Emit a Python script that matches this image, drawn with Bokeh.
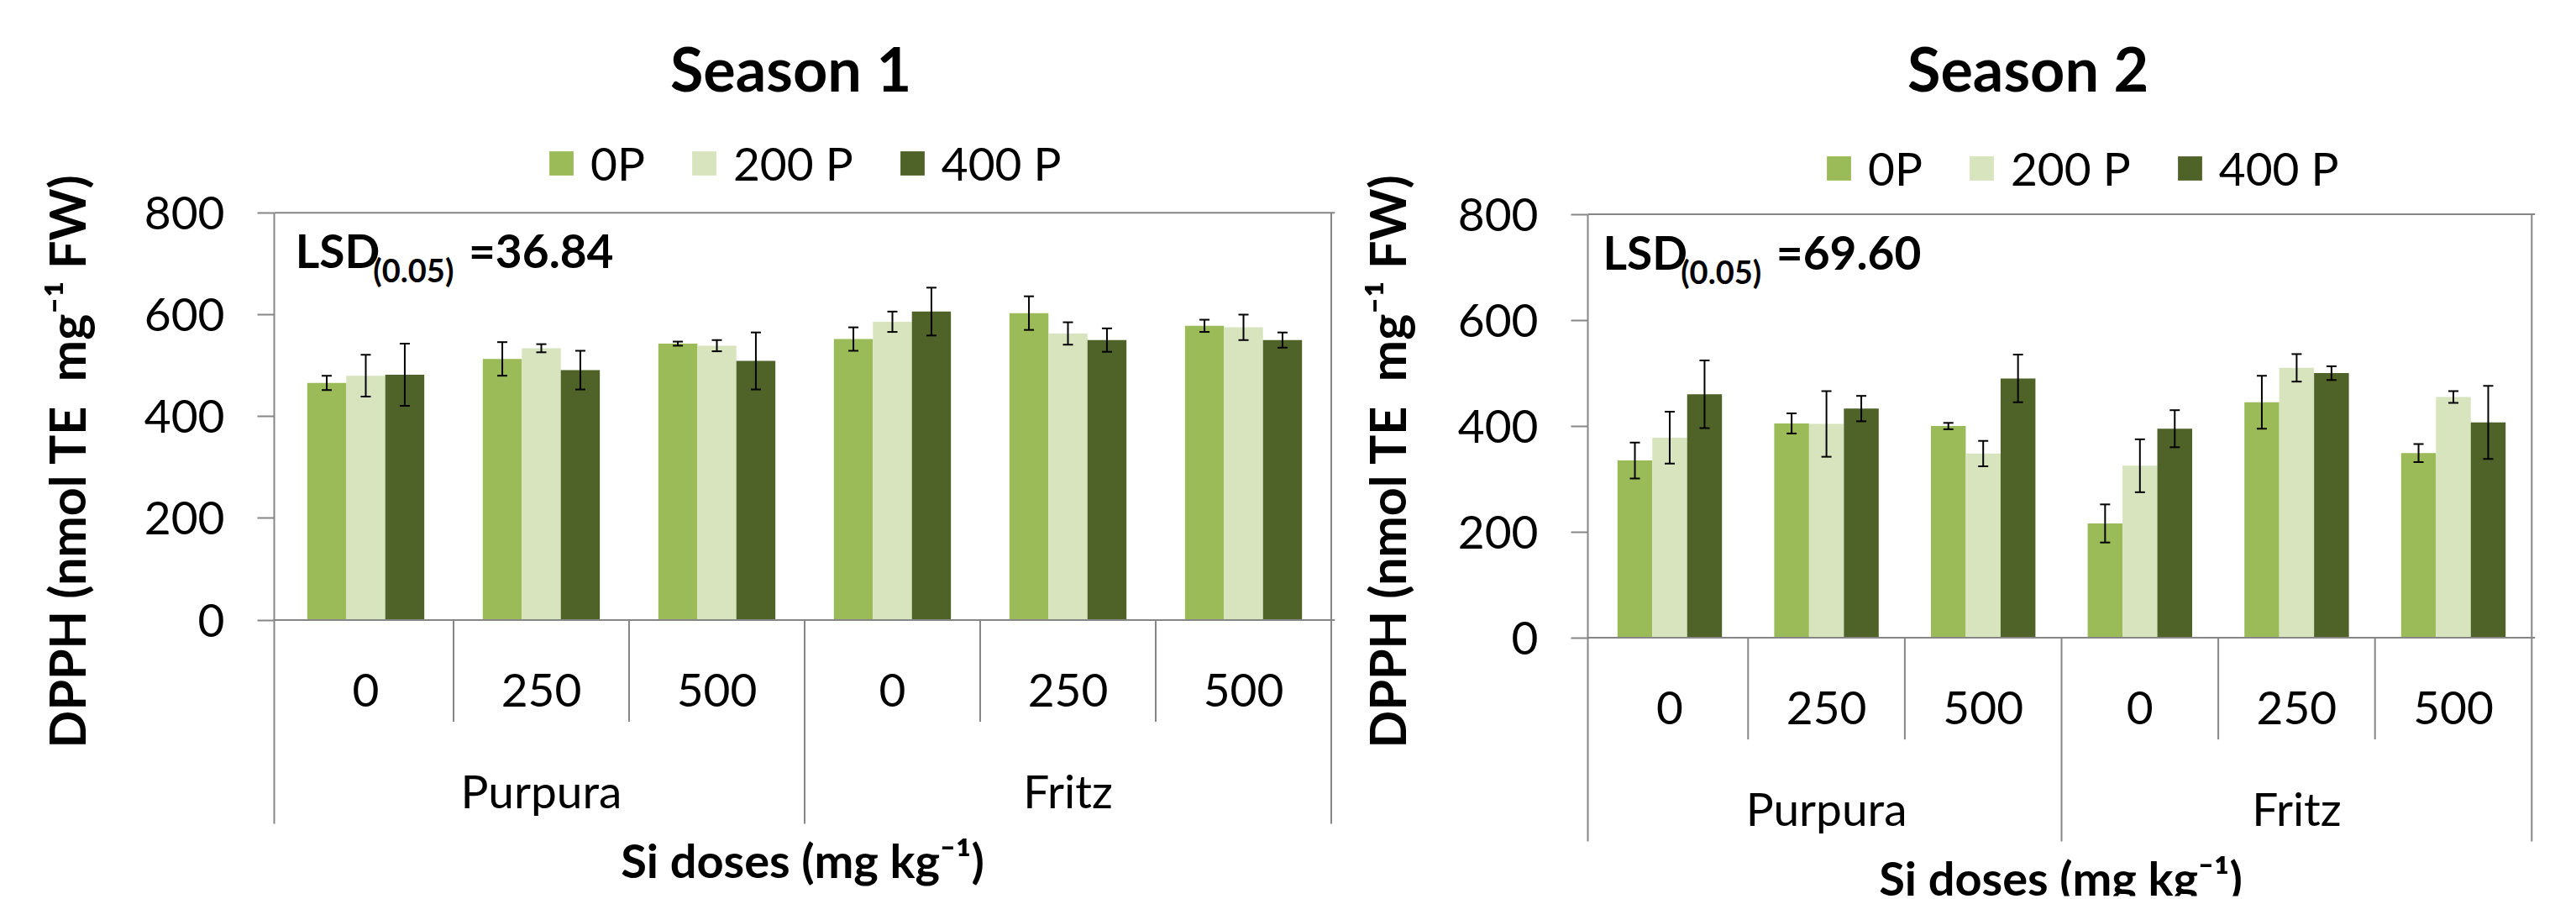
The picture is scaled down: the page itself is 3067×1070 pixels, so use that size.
import math
from bokeh.plotting import figure
from bokeh.models import (FactorRange, Range1d, FixedTicker, ColumnDataSource, Label,
                          Legend, LegendItem, Span)
from bokeh.transform import dodge
from bokeh.layouts import row
from bokeh.core.properties import value
from bokeh.embed import file_html
from bokeh.resources import INLINE

# ---------------- data ----------------
cultivars = ["Purpura", "Fritz"]
doses = ["0", "250", "500"]
series_names = ["0P", "200 P", "400 P"]
series_colors = ["#9BBB59", "#D7E4BD", "#4F6228"]
y_ticks = [0, 200, 400, 600, 800]

# Season 1 (means, error bar half-widths), order: Purpura 0/250/500, Fritz 0/250/500
s1_0p = [466, 513, 543, 552, 603, 578]
s1_0p_err = [14, 33, 4, 23, 33, 12]
s1_200p = [480, 534, 539, 586, 563, 575]
s1_200p_err = [41, 8, 11, 20, 22, 25]
s1_400p = [482, 491, 509, 606, 550, 550]
s1_400p_err = [61, 38, 56, 47, 23, 15]

# Season 2
s2_0p = [335, 405, 400, 216, 445, 349]
s2_0p_err = [34, 19, 6, 36, 50, 17]
s2_200p = [378, 404, 348, 325, 510, 455]
s2_200p_err = [49, 62, 24, 50, 26, 11]
s2_400p = [460, 433, 490, 395, 500, 407]
s2_400p_err = [64, 24, 45, 35, 13, 69]

titles = ["Season 1", "Season 2"]
lsd_values = ["=36.84", "=69.60"]
y_title = "DPPH (nmol TE\u2002mg\u207b\u00b9 FW)"
x_title = "Si doses (mg kg\u207b\u00b9)"

FONT = "Lato"
GRAY = "#868686"
FRAME_TOP = 30
FRAME_BOTTOM = 1066
FIG_H = 1068


def make_chart(title, lsd, vals, errs, g):
    fl, fw = g["frame_left"], g["frame_w"]
    ft, fb = FRAME_TOP, FRAME_BOTTOM
    fh = fb - ft
    cat_px = g["cat_px"]
    pad = fw / cat_px - 6
    ppu = (g["y0"] - g["y800"]) / 800.0
    y_end = 800 + (g["y800"] - ft) / ppu
    y_start = y_end - fh / ppu

    def dx(px):
        return -pad / 2 + (px - fl) / cat_px

    def dy(py):
        return y_end - (py - ft) / ppu

    y_sep = dy(g["sep_bottom"])

    factors = [(c, d) for c in cultivars for d in doses]
    p = figure(width=g["fig_w"], height=FIG_H, title=None,
               x_range=FactorRange(factors=factors, factor_padding=0, group_padding=0,
                                   subgroup_padding=0, range_padding=pad,
                                   range_padding_units="absolute"),
               y_range=Range1d(y_start, y_end),
               output_backend="svg", toolbar_location=None,
               min_border_left=fl - g["page_left"],
               min_border_right=g["fig_w"] - (fl - g["page_left"]) - fw,
               min_border_top=ft,
               min_border_bottom=FIG_H - fb)
    p.outline_line_color = None
    p.grid.visible = False
    p.xaxis.visible = False
    p.background_fill_color = "white"
    p.border_fill_color = "white"

    yax = p.yaxis[0]
    yax.ticker = FixedTicker(ticks=y_ticks, minor_ticks=[])
    yax.bounds = (y_sep, 800)
    yax.major_tick_out = 20
    yax.major_tick_in = 0
    yax.minor_tick_line_color = None
    yax.axis_line_color = GRAY
    yax.axis_line_width = 2
    yax.major_tick_line_color = GRAY
    yax.major_tick_line_width = 2
    yax.major_label_text_font = FONT
    yax.major_label_text_font_size = "55px"
    yax.major_label_text_color = "black"
    yax.major_label_standoff = 39
    yax.axis_label = y_title
    yax.axis_label_text_font = FONT
    yax.axis_label_text_font_style = "bold"
    yax.axis_label_text_font_size = "59px"
    yax.axis_label_text_color = "black"
    yax.axis_label_standoff = g["ytitle_standoff"]

    # frame lines
    p.add_layout(Span(location=800, dimension="width", line_color=GRAY, line_width=2))
    p.add_layout(Span(location=0, dimension="width", line_color=GRAY, line_width=2))

    data = {"x": factors}
    w = 1 / 4.5
    offsets = [-w, 0, w]
    for i in range(3):
        data[f"v{i}"] = vals[i]
        data[f"lo{i}"] = [v - e for v, e in zip(vals[i], errs[i])]
        data[f"hi{i}"] = [v + e for v, e in zip(vals[i], errs[i])]
    src = ColumnDataSource(data)

    bars = []
    for i in range(3):
        xd = dodge("x", offsets[i], range=p.x_range)
        r = p.vbar(x=xd, top=f"v{i}", width=w, bottom=0, source=src,
                   fill_color=series_colors[i], line_color=None)
        bars.append(r)
    for i in range(3):
        xd = dodge("x", offsets[i], range=p.x_range)
        p.segment(x0=xd, y0=f"lo{i}", x1=xd, y1=f"hi{i}", source=src,
                  line_color="black", line_width=2)
        p.scatter(x=xd, y=f"hi{i}", source=src, marker="dash", size=12,
                  line_color="black", line_width=2)
        p.scatter(x=xd, y=f"lo{i}", source=src, marker="dash", size=12,
                  line_color="black", line_width=2)

    # category separators below the axis
    inner_y = -g["inner_px"] / ppu
    inner_x = [(c, d, 0.5) for c in cultivars for d in doses[:-1]]
    p.segment(x0=inner_x, y0=[0] * len(inner_x), x1=inner_x, y1=[inner_y] * len(inner_x),
              line_color=GRAY, line_width=2)
    outer_x = [(cultivars[0], doses[-1], 0.5), (cultivars[-1], doses[-1], 0.5)]
    p.segment(x0=outer_x, y0=[0, 800], x1=outer_x, y1=[y_sep, y_sep],
              line_color=GRAY, line_width=2)

    # category labels (vertically centred)
    dose_y = -g["dose_c_px"] / ppu
    p.text(x=factors, y=[dose_y] * len(factors), text=[f[1] for f in factors],
           text_align="center", text_baseline="middle", text_font=value(FONT),
           text_font_size="55px", text_color="black")
    cult_y = -g["cult_c_px"] / ppu
    p.text(x=cultivars, y=[cult_y] * len(cultivars), text=cultivars,
           text_align="center", text_baseline="middle", text_font=value(FONT),
           text_font_size="55px", text_color="black")

    # legend
    items = [LegendItem(label=n, renderers=[r]) for n, r in zip(series_names, bars)]
    leg = Legend(items=items, orientation="horizontal",
                 location=(g["leg_x"] - fl, fb - g["leg_bottom"]),
                 glyph_width=36, glyph_height=36, label_standoff=17, spacing=52,
                 padding=0, margin=0, border_line_color=None, background_fill_alpha=0,
                 label_text_font=FONT, label_text_font_size="55px",
                 label_text_color="black")
    p.add_layout(leg)

    # titles and text (positions are the visual centres of the capitals)
    p.add_layout(Label(x=dx(g["title_cx"]), y=dy(80), text=title, text_align="center",
                       text_baseline="middle", text_font=FONT, text_font_style="bold",
                       text_font_size="72px", text_color="black"))
    p.add_layout(Label(x=dx(g["xtitle_cx"]), y=dy(g["xtitle_c"]), text=x_title,
                       text_align="center", text_baseline="middle", text_font=FONT,
                       text_font_style="bold", text_font_size="56px", text_color="black"))
    lx = g["lsd_x"]
    p.add_layout(Label(x=dx(lx[0]), y=dy(g["lsd_c"]), text="LSD", text_align="left",
                       text_baseline="middle", text_font=FONT, text_font_style="bold",
                       text_font_size="55px", text_color="black"))
    p.add_layout(Label(x=dx(lx[1]), y=dy(g["lsd_c"] + 23), text="(0.05)", text_align="left",
                       text_baseline="middle", text_font=FONT, text_font_style="bold",
                       text_font_size="38px", text_color="black"))
    p.add_layout(Label(x=dx(lx[2]), y=dy(g["lsd_c"]), text=lsd, text_align="left",
                       text_baseline="middle", text_font=FONT, text_font_style="bold",
                       text_font_size="55px", text_color="black"))
    return p


geo1 = dict(page_left=0, fig_w=1590, frame_left=326, frame_w=1263,
            cat_px=209.75, y800=252.8, y0=737.5,
            sep_bottom=980, inner_px=121, dose_c_px=83.5, cult_c_px=203,
            leg_x=650, leg_bottom=227, title_cx=941, ytitle_standoff=54,
            xtitle_cx=955, xtitle_c=1023, lsd_x=[349, 442, 556], lsd_c=297)
geo2 = dict(page_left=1590, fig_w=1476, frame_left=1890, frame_w=1128,
            cat_px=187.3, y800=254.6, y0=758.6,
            sep_bottom=1001, inner_px=121, dose_c_px=83.5, cult_c_px=203,
            leg_x=2171, leg_bottom=233, title_cx=2414, ytitle_standoff=46,
            xtitle_cx=2453, xtitle_c=1044, lsd_x=[1906, 1999, 2113], lsd_c=299)

p1 = make_chart(titles[0], lsd_values[0], [s1_0p, s1_200p, s1_400p],
                [s1_0p_err, s1_200p_err, s1_400p_err], geo1)
p2 = make_chart(titles[1], lsd_values[1], [s2_0p, s2_200p, s2_400p],
                [s2_0p_err, s2_200p_err, s2_400p_err], geo2)

layout = row(p1, p2)
open("out.html", "w").write(file_html(layout, INLINE))
